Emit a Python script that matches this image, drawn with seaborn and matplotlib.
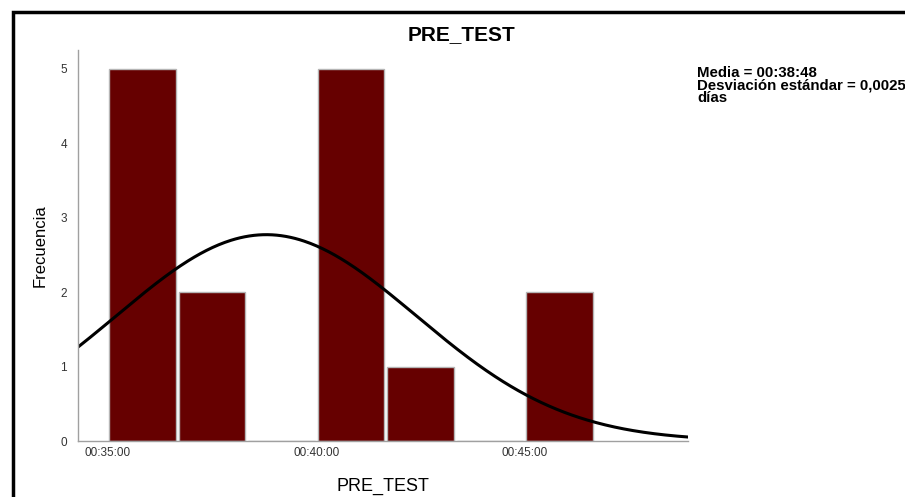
import numpy as np
import seaborn as sns
import matplotlib.pyplot as plt
from matplotlib.ticker import FuncFormatter
from matplotlib.patches import Rectangle

sns.set_style("white")
plt.rcParams['font.family'] = ['Liberation Sans', 'DejaVu Sans']
plt.rcParams['text.color'] = 'black'
plt.rcParams['axes.labelcolor'] = 'black'

# histogram bins (seconds from 00:00:00), width 100 s
bin_starts = [2100, 2200, 2300, 2400, 2500, 2600, 2700]
counts = [5, 2, 0, 5, 1, 0, 2]
bin_width = 100

# summary stats shown in the chart
mean_sec = 38 * 60 + 48      # 00:38:48
sd_days = 0.0025
sd_sec = sd_days * 86400
n_total = sum(counts)

x_ticks = [2100, 2400, 2700]

edges = bin_starts + [bin_starts[-1] + bin_width]
centers = [b + bin_width / 2 for b in bin_starts]

fig = plt.figure(figsize=(9.05, 4.97), dpi=100)
ax = fig.add_axes([78 / 905, 1 - 441 / 497, (688 - 78) / 905, (441 - 50) / 497])

sns.histplot(x=centers, weights=counts, bins=edges, color="#660000",
             edgecolor="#b5b5b5", linewidth=1.0, alpha=1, shrink=0.96, ax=ax)

# normal curve from the reported mean / sd
xlo, xhi = 2057, 2935
xs = np.linspace(xlo, xhi, 400)
ys = n_total * bin_width / (sd_sec * np.sqrt(2 * np.pi)) * np.exp(-0.5 * ((xs - mean_sec) / sd_sec) ** 2)
sns.lineplot(x=xs, y=ys, color="black", linewidth=2.2, ax=ax)

ax.set_xlim(xlo, xhi)
ax.set_ylim(0, 5.25)
ax.set_xticks(x_ticks)
ax.xaxis.set_major_formatter(FuncFormatter(
    lambda v, p: "%02d:%02d:%02d" % (v // 3600, (v % 3600) // 60, v % 60)))
ax.set_yticks(range(6))
ax.tick_params(axis='both', length=0, labelsize=8.5, colors="#333333")
ax.tick_params(axis='x', pad=4)
ax.tick_params(axis='y', pad=8)
for s in ["top", "right"]:
    ax.spines[s].set_visible(False)
for s in ["left", "bottom"]:
    ax.spines[s].set_color("#a0a0a0")
    ax.spines[s].set_linewidth(1.0)

ax.set_xlabel("PRE_TEST", fontsize=13, labelpad=14)
ax.set_ylabel("Frecuencia", fontsize=12, labelpad=9)

fig.text(461 / 905, 1 - 35 / 497, "PRE_TEST", fontsize=15, fontweight="bold",
         ha="center", va="center")
fig.text(697 / 905, 1 - 66 / 497,
         "Media = 00:38:48\nDesviación estándar = 0,0025\ndías",
         fontsize=10.8, fontweight="bold", ha="left", va="top", linespacing=0.85)

fig.patches.append(Rectangle((13 / 905, -0.2), 1.2, 1.2 - 12 / 497,
                             transform=fig.transFigure, fill=False,
                             edgecolor="black", linewidth=2.5, clip_on=False))

fig.savefig("out.png", dpi=100)
